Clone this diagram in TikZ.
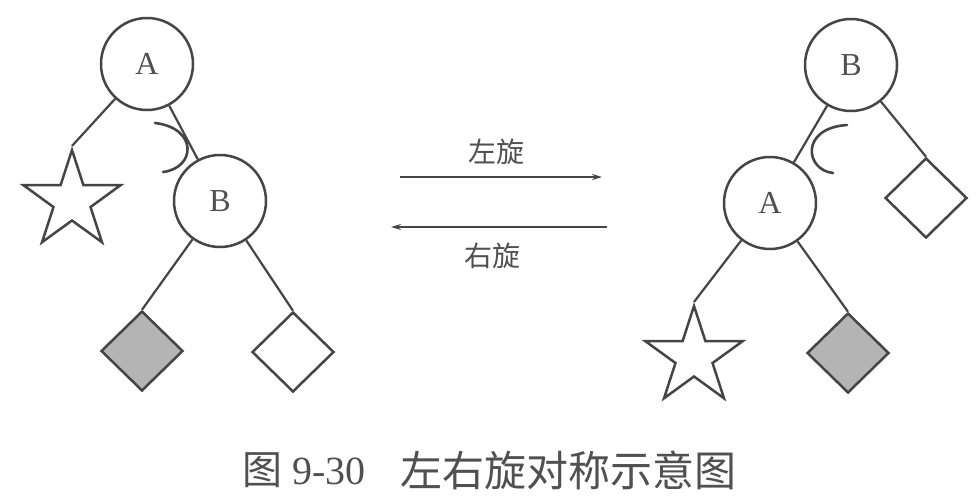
\documentclass[tikz,border=0pt]{standalone}
\usepackage{fontspec}
\setmainfont{Liberation Serif}
\newfontfamily\cjk{Noto Sans CJK SC}
\usetikzlibrary{shapes.geometric,arrows.meta}
\definecolor{ln}{HTML}{454545}
\definecolor{gfill}{HTML}{B4B4B4}
\definecolor{tx}{HTML}{505050}
\tikzset{
  treenode/.style={circle,draw=ln,line width=2.5pt,fill=white,minimum size=92pt,inner sep=0pt,
    text=tx,font=\fontsize{32}{34}\selectfont},
  starleaf/.style={star,star points=5,star point ratio=2.618,draw=ln,line width=2.5pt,fill=white,
    minimum size=102pt,inner sep=0pt},
  dleaf/.style={diamond,draw=ln,line width=2.5pt,minimum width=82pt,minimum height=80pt,inner sep=0pt},
  whiteleaf/.style={dleaf,fill=white},
  grayleaf/.style={dleaf,fill=gfill},
  edge/.style={draw=ln,line width=2.2pt},
  rotmark/.style={draw=ln,line width=2.6pt,line cap=round},
  arrowline/.style={draw=ln,line width=2.5pt},
  lbl/.style={text=tx,font=\cjk\fontsize{28}{30}\selectfont,inner sep=0pt},
  captext/.style={text=tx,inner sep=0pt,anchor=west}
}
\begin{document}
\begin{tikzpicture}[x=1pt,y=-1pt]
\useasboundingbox[fill=white] (0,0) rectangle (976,501);
% left tree
\node[treenode] (LA) at (147,64) {A};
\node[treenode] (LB) at (220,201) {B};
\node[starleaf] (LS) at (72,201) {};
\node[grayleaf] (LG) at (142,351) {};
\node[whiteleaf] (LW) at (293,352) {};
\draw[edge] (LA) -- (LS.outer point 1);
\draw[edge] (LA) -- (LB);
\draw[edge] (LB) -- (LG.north);
\draw[edge] (LB) -- (LW.north);
\coordinate (la1) at (155,123);
\coordinate (la2) at (163,172);
\draw[rotmark] (la1) .. controls (198,128) and (196,168) .. (la2);
% right tree
\node[treenode] (RB) at (851,65) {B};
\node[treenode] (RA) at (770,203) {A};
\node[whiteleaf] (RW) at (926,198) {};
\node[starleaf] (RS) at (694,357) {};
\node[grayleaf] (RG) at (848,353) {};
\draw[edge] (RB) -- (RA);
\draw[edge] (RB) -- (RW.north);
\draw[edge] (RA) -- (RS.outer point 1);
\draw[edge] (RA) -- (RG.north);
\coordinate (ra1) at (847,125);
\coordinate (ra2) at (833,173);
\draw[rotmark] (ra1) .. controls (800,128) and (805,170) .. (ra2);
% arrows
\coordinate (t1) at (400,177);
\coordinate (t2) at (602,177);
\coordinate (b1) at (607,227);
\coordinate (b2) at (391,227);
\draw[arrowline,-{Stealth[length=10pt,width=6pt]}] (t1) -- (t2);
\draw[arrowline,-{Stealth[length=10pt,width=6pt]}] (b1) -- (b2);
\node[lbl] (l1) at (496,152) {左旋};
\node[lbl] (l2) at (492,256) {右旋};
% caption
\node[captext,font=\fontsize{40}{44}\selectfont] (c1) at (242,470) {{\cjk 图} 9-30};
\node[captext,font=\cjk\fontsize{42}{44}\selectfont] (c2) at (400,470) {左右旋对称示意图};
\end{tikzpicture}
\end{document}
